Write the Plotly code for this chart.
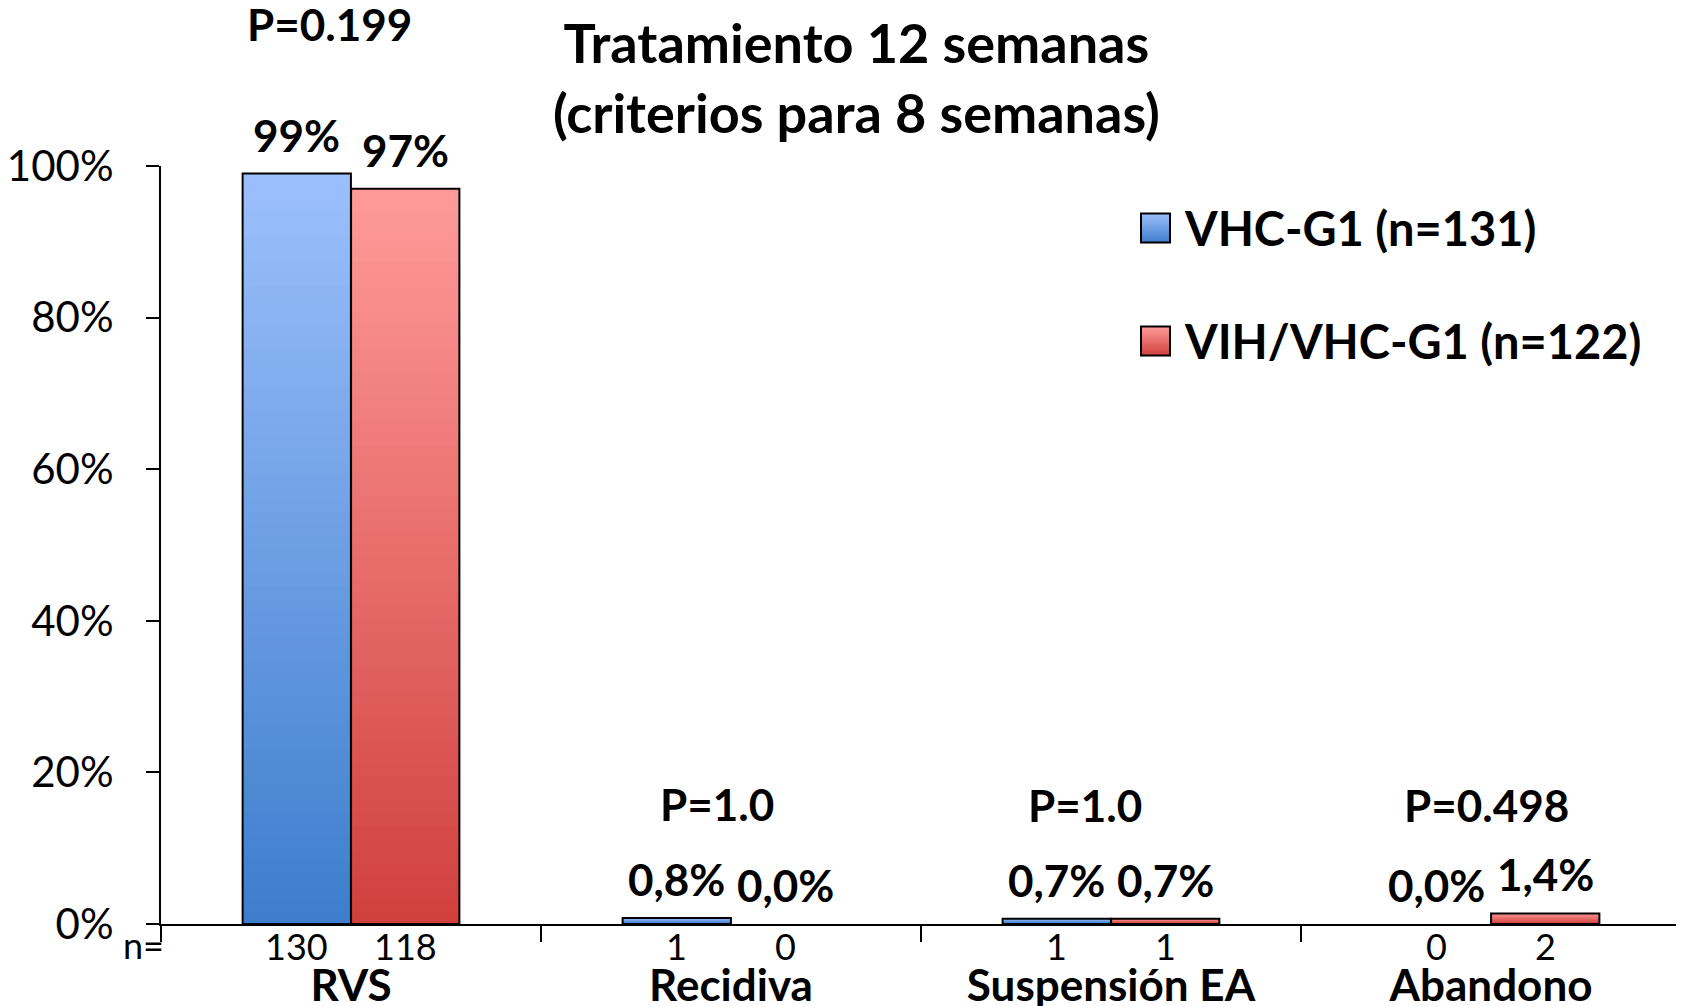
import plotly.graph_objects as go

# data
categories = ["RVS", "Recidiva", "Suspensión EA", "Abandono"]
series = ["VHC-G1 (n=131)", "VIH/VHC-G1 (n=122)"]
vhc = [0.99, 0.008, 0.007, 0.0]
vih = [0.97, 0.0, 0.007, 0.014]
vhc_labels = ["99%", "0,8%", "0,7%", "0,0%"]
vih_labels = ["97%", "0,0%", "0,7%", "1,4%"]
vhc_n = ["130", "1", "1", "0"]
vih_n = ["118", "0", "1", "2"]
p_values = ["P=0.199", "P=1.0", "P=1.0", "P=0.498"]

# the page body has an 8px margin, so the figure is drawn 8px in from the corner
PAGE = 8
W, H = 1684 - PAGE, 1006 - PAGE
ML, MT = 161 - PAGE, 166 - PAGE
MR = W - (1681 - PAGE)
MB = H - (924 - PAGE)
PW, PH = W - ML - MR, H - MT - MB

BAR_W = 0.285
OFFSET = 0.1427
N_SEG = 60
FONT = "Lato"

blue_top, blue_bot = (156, 192, 252), (61, 125, 204)
red_top, red_bot = (255, 155, 153), (208, 64, 61)


def mix(c_top, c_bot, t):
    # t = 0 at bottom, 1 at top
    return "rgb(%d,%d,%d)" % tuple(round(b + (a - b) * t) for a, b in zip(c_top, c_bot))


def px_x(x):
    # screen pixel -> paper fraction
    return (x - PAGE - ML) / PW


def px_y(y):
    return 1 - (y - PAGE - MT) / PH


def hide_zero(vals):
    # a zero-height bar would still leave a hairline, the original shows nothing
    return [v if v > 0 else None for v in vals]


fig = go.Figure()
xs = list(range(len(categories)))
x_blue = [i - OFFSET for i in xs]
x_red = [i + OFFSET for i in xs]

# gradient fill: nested bars from full height (light) down to short (dark)
for vals, xpos, ctop, cbot in [(vhc, x_blue, blue_top, blue_bot), (vih, x_red, red_top, red_bot)]:
    for k in range(N_SEG):
        frac = (N_SEG - k) / N_SEG
        col = mix(ctop, cbot, frac - 0.5 / N_SEG)
        fig.add_trace(go.Bar(
            x=xpos, y=[None if v is None else v * frac for v in hide_zero(vals)],
            width=BAR_W, marker=dict(color=col, line=dict(width=0)),
            showlegend=False, hoverinfo="skip"))

# outlines
for name, vals, xpos in [(series[0], vhc, x_blue), (series[1], vih, x_red)]:
    fig.add_trace(go.Bar(
        x=xpos, y=hide_zero(vals), width=BAR_W, name=name,
        marker=dict(color="rgba(0,0,0,0)", line=dict(color="black", width=2)),
        showlegend=False))

ann = []
lab_font = dict(family=FONT, size=44, color="black", weight="bold")
n_font = dict(family=FONT, size=36, color="black")
for i in xs:
    for xpos, v, lab, n in [(x_blue[i], vhc[i], vhc_labels[i], vhc_n[i]),
                            (x_red[i], vih[i], vih_labels[i], vih_n[i])]:
        ann.append(dict(x=xpos, y=v, xref="x", yref="y", text=lab, showarrow=False,
                        yanchor="middle", yshift=39, font=lab_font))
        ann.append(dict(x=xpos, y=0, xref="x", yref="y", text=n, showarrow=False,
                        yanchor="middle", yshift=-22, font=n_font))

p_shift_y = [150, 114, 114, 108]
p_shift_x = [-22, -14, -26, -5]
for i in xs:
    ann.append(dict(x=i, y=max(vhc[i], vih[i]), xref="x", yref="y", text=p_values[i],
                    showarrow=False, yanchor="middle", yshift=p_shift_y[i],
                    xshift=p_shift_x[i], font=lab_font))

ann.append(dict(x=px_x(143), y=px_y(945), xref="paper", yref="paper", text="n=",
                showarrow=False, xanchor="center", yanchor="middle", font=n_font))

ann.append(dict(x=px_x(856), y=px_y(78), xref="paper", yref="paper",
                text="Tratamiento 12 semanas<br>(criterios para 8 semanas)",
                showarrow=False, xanchor="center", yanchor="middle",
                font=dict(family=FONT, size=54, color="black", weight="bold")))

# legend drawn by hand so the swatches can carry the gradient
shapes = []
leg_y = [228, 341]
for name, ctop, cbot, yc in [(series[0], blue_top, blue_bot, leg_y[0]),
                             (series[1], red_top, red_bot, leg_y[1])]:
    x0, x1, y0, y1 = 1141, 1170, yc - 14.5, yc + 14.5
    n = 12
    for k in range(n):
        ya = y0 + (y1 - y0) * k / n
        yb = y0 + (y1 - y0) * (k + 1) / n + 0.6
        shapes.append(dict(type="rect", xref="paper", yref="paper",
                           x0=px_x(x0), x1=px_x(x1), y0=px_y(ya), y1=px_y(yb),
                           fillcolor=mix(ctop, cbot, 1 - (k + 0.5) / n), line=dict(width=0)))
    shapes.append(dict(type="rect", xref="paper", yref="paper",
                       x0=px_x(x0), x1=px_x(x1), y0=px_y(y0), y1=px_y(y1),
                       fillcolor="rgba(0,0,0,0)", line=dict(color="black", width=2)))
    ann.append(dict(x=px_x(1182), y=px_y(yc), xref="paper", yref="paper", text=name,
                    showarrow=False, xanchor="left", yanchor="middle",
                    font=dict(family=FONT, size=47, color="black", weight="bold")))

fig.update_layout(
    width=W, height=H,
    margin=dict(l=ML, r=MR, t=MT, b=MB, autoexpand=False),
    paper_bgcolor="white", plot_bgcolor="white",
    barmode="overlay",
    annotations=ann, shapes=shapes,
    font=dict(family=FONT, color="black"),
)
fig.update_xaxes(
    range=[-0.5, 3.5], tickmode="array", tickvals=xs, ticktext=categories,
    ticks="", showline=True, linecolor="black", linewidth=2, showgrid=False,
    zeroline=False, ticklabelstandoff=22, automargin=False,
    tickfont=dict(family=FONT, size=44, color="black", weight="bold"),
    minor=dict(tickmode="array", tickvals=[-0.5, 0.5, 1.5, 2.5, 3.5],
               ticks="outside", ticklen=16, tickwidth=2, tickcolor="black"),
)
fig.update_yaxes(
    range=[0, 1], tickmode="array", tickvals=[0, 0.2, 0.4, 0.6, 0.8, 1.0],
    tickformat=".0%", ticks="outside", ticklen=13, tickwidth=2, tickcolor="black",
    showline=True, linecolor="black", linewidth=2, showgrid=False, zeroline=False,
    ticklabelstandoff=24, automargin=False,
    tickfont=dict(family=FONT, size=42, color="black"),
)

fig.write_html("out.html")
